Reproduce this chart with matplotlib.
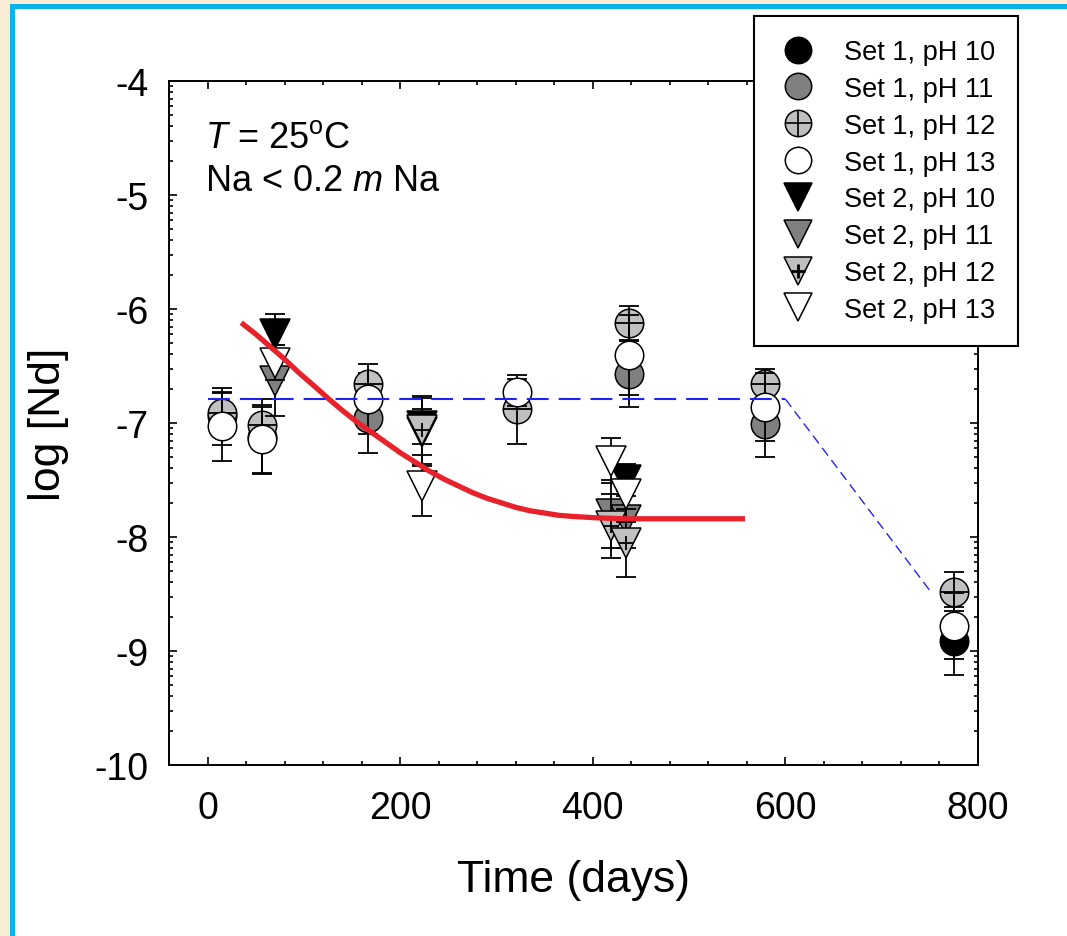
import numpy as np
import matplotlib
matplotlib.use("Agg")
import matplotlib.pyplot as plt
from matplotlib.patches import Rectangle
from matplotlib.lines import Line2D
from matplotlib.ticker import MultipleLocator, FixedLocator

plt.rcParams['font.family'] = ['Liberation Sans', 'DejaVu Sans']
plt.rcParams['mathtext.fontset'] = 'custom'
plt.rcParams['mathtext.rm'] = 'Liberation Sans'
plt.rcParams['mathtext.it'] = 'Liberation Sans:italic'
plt.rcParams['axes.unicode_minus'] = False

# ---- data ----
# set 1 (circles)
s1_ph10_days = [57, 775]
s1_ph10_val = [-7.12, -8.91]
s1_ph10_err = [0.33, 0.30]

s1_ph11_days = [15, 167, 438, 579]
s1_ph11_val = [-6.94, -6.96, -6.57, -7.01]
s1_ph11_err = [0.25, 0.30, 0.29, 0.29]

s1_ph12_days = [15, 57, 167, 321, 438, 579, 775]
s1_ph12_val = [-6.91, -7.02, -6.66, -6.88, -6.12, -6.66, -8.48]
s1_ph12_err = [0.17, 0.16, 0.10, 0.30, 0.15, 0.13, 0.17]

s1_ph13_days = [15, 57, 167, 321, 438, 579, 775]
s1_ph13_val = [-7.03, -7.14, -6.79, -6.73, -6.40, -6.86, -8.78]
s1_ph13_err = [0.30, 0.30, 0.31, 0.12, 0.35, 0.30, 0.29]

# set 2 (down triangles)
s2_ph10_days = [70, 223, 434]
s2_ph10_val = [-6.22, -7.03, -7.50]
s2_ph10_err = [0.18, 0.15, 0.14]

s2_ph11_days = [70, 223, 419, 434]
s2_ph11_val = [-6.63, -7.08, -7.80, -7.85]
s2_ph11_err = [0.31, 0.30, 0.30, 0.25]

s2_ph12_days = [223, 419, 434]
s2_ph12_val = [-7.06, -7.90, -8.05]
s2_ph12_err = [0.30, 0.28, 0.30]

s2_ph13_days = [70, 223, 419, 434]
s2_ph13_val = [-6.47, -7.55, -7.33, -7.62]
s2_ph13_err = [0.15, 0.27, 0.20, 0.25]

# red fitted curve
fit_days = [35, 50, 65, 80, 95, 110, 126, 140, 155, 170, 185, 200, 215, 230, 245, 260, 275,
            290, 305, 320, 335, 350, 365, 380, 400, 430, 480, 558]
fit_val = [-6.12, -6.22, -6.33, -6.44, -6.56, -6.67, -6.79, -6.89, -6.99, -7.08, -7.17, -7.26,
           -7.34, -7.42, -7.49, -7.55, -7.61, -7.66, -7.70, -7.74, -7.77, -7.79, -7.81, -7.82,
           -7.83, -7.84, -7.84, -7.84]

# blue dashed guide
flat_days = [0, 600]
flat_val = [-6.79, -6.79]
drop_days = [600, 750]
drop_val = [-6.79, -8.47]

labels = ['Set 1, pH 10', 'Set 1, pH 11', 'Set 1, pH 12', 'Set 1, pH 13',
          'Set 2, pH 10', 'Set 2, pH 11', 'Set 2, pH 12', 'Set 2, pH 13']

series = [
    (s1_ph10_days, s1_ph10_val, s1_ph10_err, 'o', 'black', False),
    (s1_ph11_days, s1_ph11_val, s1_ph11_err, 'o', '#808080', False),
    (s1_ph12_days, s1_ph12_val, s1_ph12_err, 'o', '#c0c0c0', True),
    (s1_ph13_days, s1_ph13_val, s1_ph13_err, 'o', 'white', False),
    (s2_ph10_days, s2_ph10_val, s2_ph10_err, 'v', 'black', False),
    (s2_ph11_days, s2_ph11_val, s2_ph11_err, 'v', '#808080', False),
    (s2_ph12_days, s2_ph12_val, s2_ph12_err, 'v', '#c0c0c0', True),
    (s2_ph13_days, s2_ph13_val, s2_ph13_err, 'v', 'white', False),
]

fig = plt.figure(figsize=(10.67, 9.37), dpi=100)
W, H = 1067, 937
fig.patch.set_facecolor('#f7ecd4')
fig.add_artist(Rectangle((10 / W, 0), 1, 1 - 5 / H, transform=fig.transFigure,
                         facecolor='#08b2ec', edgecolor='none', zorder=-10))
fig.add_artist(Rectangle((15 / W, 0), 1, 1 - 10 / H, transform=fig.transFigure,
                         facecolor='white', edgecolor='none', zorder=-9))

ax = fig.add_axes([169 / W, 1 - 766 / H, (978 - 169) / W, (766 - 82) / H])
ax.set_xlim(-40, 800)
ax.set_ylim(-10, -4)

msize = {'o': 20.5, 'v': 22}
handles = []
for i, (d, v, e, m, c, cross) in enumerate(series):
    z = 3 + i
    ax.errorbar(d, v, yerr=e, fmt='none', ecolor='black', elinewidth=1.3,
                capsize=7, capthick=1.3, zorder=z)
    ax.plot(d, v, linestyle='none', marker=m, markersize=msize[m], markerfacecolor=c,
            markeredgecolor='black', markeredgewidth=1.1, zorder=z + 0.1)
    h = Line2D([], [], linestyle='none', marker=m, markersize=19 if m == 'o' else 20,
               markerfacecolor=c, markeredgecolor='black', markeredgewidth=1.1)
    if cross:
        ps = msize[m] if m == 'o' else 10
        ax.plot(d, v, linestyle='none', marker='+', markersize=ps, markeredgecolor='black',
                markeredgewidth=1.3, zorder=z + 0.2)
        hp = Line2D([], [], linestyle='none', marker='+', markersize=19 if m == 'o' else 10,
                    markeredgecolor='black', markeredgewidth=2.0 if m == 'v' else 1.2)
        handles.append((h, hp))
    else:
        handles.append(h)

ax.plot(fit_days, fit_val, color='#e8212b', linewidth=3.8, solid_capstyle='butt',
        solid_joinstyle='round', zorder=20)
ax.plot(flat_days, flat_val, color='#2222f5', linewidth=1.5, dashes=(10.5, 4.8), zorder=21)
ax.plot(drop_days, drop_val, color='#2222f5', linewidth=1.0, dashes=(7, 4), zorder=21)

# axes styling
for sp in ax.spines.values():
    sp.set_linewidth(1.4)
ax.xaxis.set_major_locator(MultipleLocator(200))
ax.xaxis.set_minor_locator(MultipleLocator(40))
ax.yaxis.set_major_locator(MultipleLocator(1))
minor_y = [n + np.log10(k) for n in range(-10, -4) for k in range(2, 10)]
ax.yaxis.set_minor_locator(FixedLocator(minor_y))
ax.tick_params(which='both', direction='in', top=True, right=True, width=1.2)
ax.tick_params(which='major', length=6, labelsize=27)
ax.tick_params(axis='x', which='major', pad=18)
ax.tick_params(axis='y', which='major', pad=15)
ax.tick_params(which='minor', length=3)

ax.set_xlabel('Time (days)', fontsize=32, labelpad=24)
ax.set_ylabel('log [Nd]', fontsize=32, labelpad=18)

ax.text(0.044, 0.918, r'$\it{T}$ = 25$^\mathrm{o}$C', transform=ax.transAxes,
        fontsize=26, va='center', ha='left')
ax.text(0.044, 0.854, r'Na < 0.2 $\it{m}$ Na', transform=ax.transAxes,
        fontsize=26, va='center', ha='left')

leg = fig.legend(handles, labels, loc='upper right', bbox_to_anchor=(1018 / W, 1 - 17 / H),
                 fontsize=19.5, frameon=True, fancybox=False, shadow=False,
                 borderpad=0.85, labelspacing=0.40, handlelength=1.5, handletextpad=0.95,
                 borderaxespad=0)
leg.get_frame().set_edgecolor('black')
leg.get_frame().set_linewidth(1.5)
leg.get_frame().set_alpha(1)

fig.savefig('out.png', dpi=100, facecolor=fig.get_facecolor())
